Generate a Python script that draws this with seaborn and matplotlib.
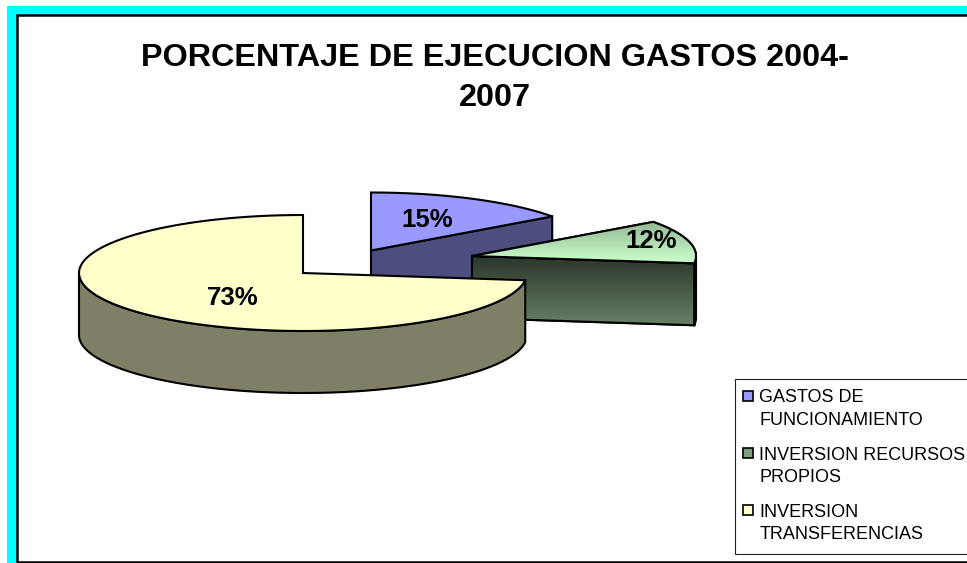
import numpy as np
import matplotlib
matplotlib.use("Agg")
import matplotlib.pyplot as plt
import seaborn as sns
from matplotlib.patches import Polygon, Rectangle
from matplotlib.legend_handler import HandlerPatch

# ---- data ----
categories = ["GASTOS DE\nFUNCIONAMIENTO", "INVERSION RECURSOS\nPROPIOS", "INVERSION\nTRANSFERENCIAS"]
shares = [15, 12, 73]
value_labels = ["15%", "12%", "73%"]
chart_title = "PORCENTAJE DE EJECUCION GASTOS 2004-\n2007"

top_colors = ["#9999FF", "#CCFFCC", "#FFFFCC"]
wall_colors = ["#4D4D80", "#668066", "#7F7F66"]
wall_dark = ["#4D4D80", "#2A352A", "#7F7F66"]
top_fade = ["#9999FF", "#94B894", "#FFFFCC"]
legend_colors = ["#9999FF", "#7FA07F", "#FFFFCC"]

sns.set_theme(style="white")
plt.rcParams["font.family"] = ["Liberation Sans", "DejaVu Sans"]

W, H = 967, 563
fig = plt.figure(figsize=(W / 100, H / 100), dpi=100, facecolor="white")
ax = fig.add_axes([0, 0, 1, 1])
ax.set_xlim(0, W)
ax.set_ylim(H, 0)
ax.set_axis_off()

# chart frame
ax.add_patch(Rectangle((7, 6), W - 7, H - 6, fc="#00FFFF", ec="none", zorder=0))
ax.add_patch(Rectangle((17, 15.3), W, 546.2, fc="white", ec="black", lw=1.8, zorder=1))

# 3-D pie projection
RX, RY, DEPTH = 224, 58, 62
centers = [(371, 250.5), (472, 256), (303, 273)]
label_pos = [(427, 220), (651, 241), (233, 298)]


def arc(cx, cy, a0, a1, n=120):
    """Ellipse points, angle clockwise from 12 o'clock in degrees."""
    t = np.radians(np.linspace(a0, a1, n))
    return np.column_stack([cx + RX * np.sin(t), cy - RY * np.cos(t)])


def gradient(poly, c_top, c_bot, zorder):
    ys = poly.get_xy()[:, 1]
    xs = poly.get_xy()[:, 0]
    cmap = matplotlib.colors.LinearSegmentedColormap.from_list("g", [c_top, c_bot])
    im = ax.imshow(np.linspace(0, 1, 64)[:, None], cmap=cmap, aspect="auto", zorder=zorder,
                   extent=(xs.min(), xs.max(), ys.max(), ys.min()), interpolation="bilinear")
    im.set_clip_path(poly)


starts = np.cumsum([0] + shares[:-1]) * 3.6
ends = np.cumsum(shares) * 3.6
for i, share in enumerate(shares):
    a0, a1 = starts[i], ends[i]
    cx, cy = centers[i]
    z = (i + 2) * 10
    rim = arc(cx, cy, a0, a1)
    if i < 2:
        # radial wall on the closing edge faces the viewer
        pe = rim[-1]
        wall = np.array([[cx, cy], pe, pe + [0, DEPTH], [cx, cy + DEPTH]])
        if a1 > 90:
            # thin sliver of outer rim past the widest point
            sl = arc(cx, cy, 90, a1, 12)
            sliver = np.vstack([sl, (sl + [0, DEPTH])[::-1]])
            ax.add_patch(Polygon(sliver, closed=True, fc="black", ec="black", lw=1.5, zorder=z))
        ax.add_patch(Polygon(wall, closed=True, fc=wall_colors[i], ec="black", lw=1.5, zorder=z))
        if wall_dark[i] != wall_colors[i]:
            pg = Polygon(wall, closed=True, fc="none", ec="none", zorder=z)
            ax.add_patch(pg)
            gradient(pg, wall_dark[i], wall_colors[i], z + 0.5)
            ax.add_patch(Polygon(wall, closed=True, fc="none", ec="black", lw=1.5, zorder=z + 0.7))
    else:
        front = arc(cx, cy, a0, 270)
        wall = np.vstack([front, (front + [0, DEPTH])[::-1]])
        ax.add_patch(Polygon(wall, closed=True, fc=wall_colors[i], ec="black", lw=1.5, zorder=z))
    # top face
    top = np.vstack([[cx, cy], rim])
    ax.add_patch(Polygon(top, closed=True, fc=top_colors[i], ec="black", lw=1.5, zorder=z + 1))
    if top_fade[i] != top_colors[i]:
        gp = Polygon(top, closed=True, fc="none", ec="none", zorder=z + 1)
        ax.add_patch(gp)
        gradient(gp, top_fade[i], top_colors[i], z + 1.5)
        ax.add_patch(Polygon(top, closed=True, fc="none", ec="black", lw=1.5, zorder=z + 1.7))
    ax.text(*label_pos[i], value_labels[i], ha="center", va="center", fontsize=18.5,
            fontweight="bold", color="black", zorder=60)

# title
ax.text(495, 78, chart_title, ha="center", va="center", fontsize=23.3, fontweight="bold",
        color="black", linespacing=1.43, zorder=60)


# legend
class FirstLineHandler(HandlerPatch):
    def create_artists(self, legend, orig_handle, xdescent, ydescent, width, height, fontsize, trans):
        r = Rectangle((-1.44, 10.8), 7.2, 7.2, fc=orig_handle.get_facecolor(), ec="black", lw=1.2, transform=trans)
        return [r]


handles = [Rectangle((0, 0), 1, 1, fc=c) for c in legend_colors]
leg = ax.legend(handles, categories, loc="upper left", bbox_to_anchor=(735, 379),
                bbox_transform=ax.transData, frameon=True, fancybox=False, framealpha=1,
                edgecolor="#222222", fontsize=13, labelspacing=0.97, borderpad=0.58,
                handlelength=0.54, handleheight=0.54, handletextpad=0.22, borderaxespad=0,
                handler_map={Rectangle: FirstLineHandler()})
leg.get_frame().set_linewidth(0.8)
leg.set_zorder(70)
for t in leg.get_texts():
    t.set_linespacing(1.43)
    t.set_color("black")

fig.savefig("out.png", dpi=100, facecolor="white")
